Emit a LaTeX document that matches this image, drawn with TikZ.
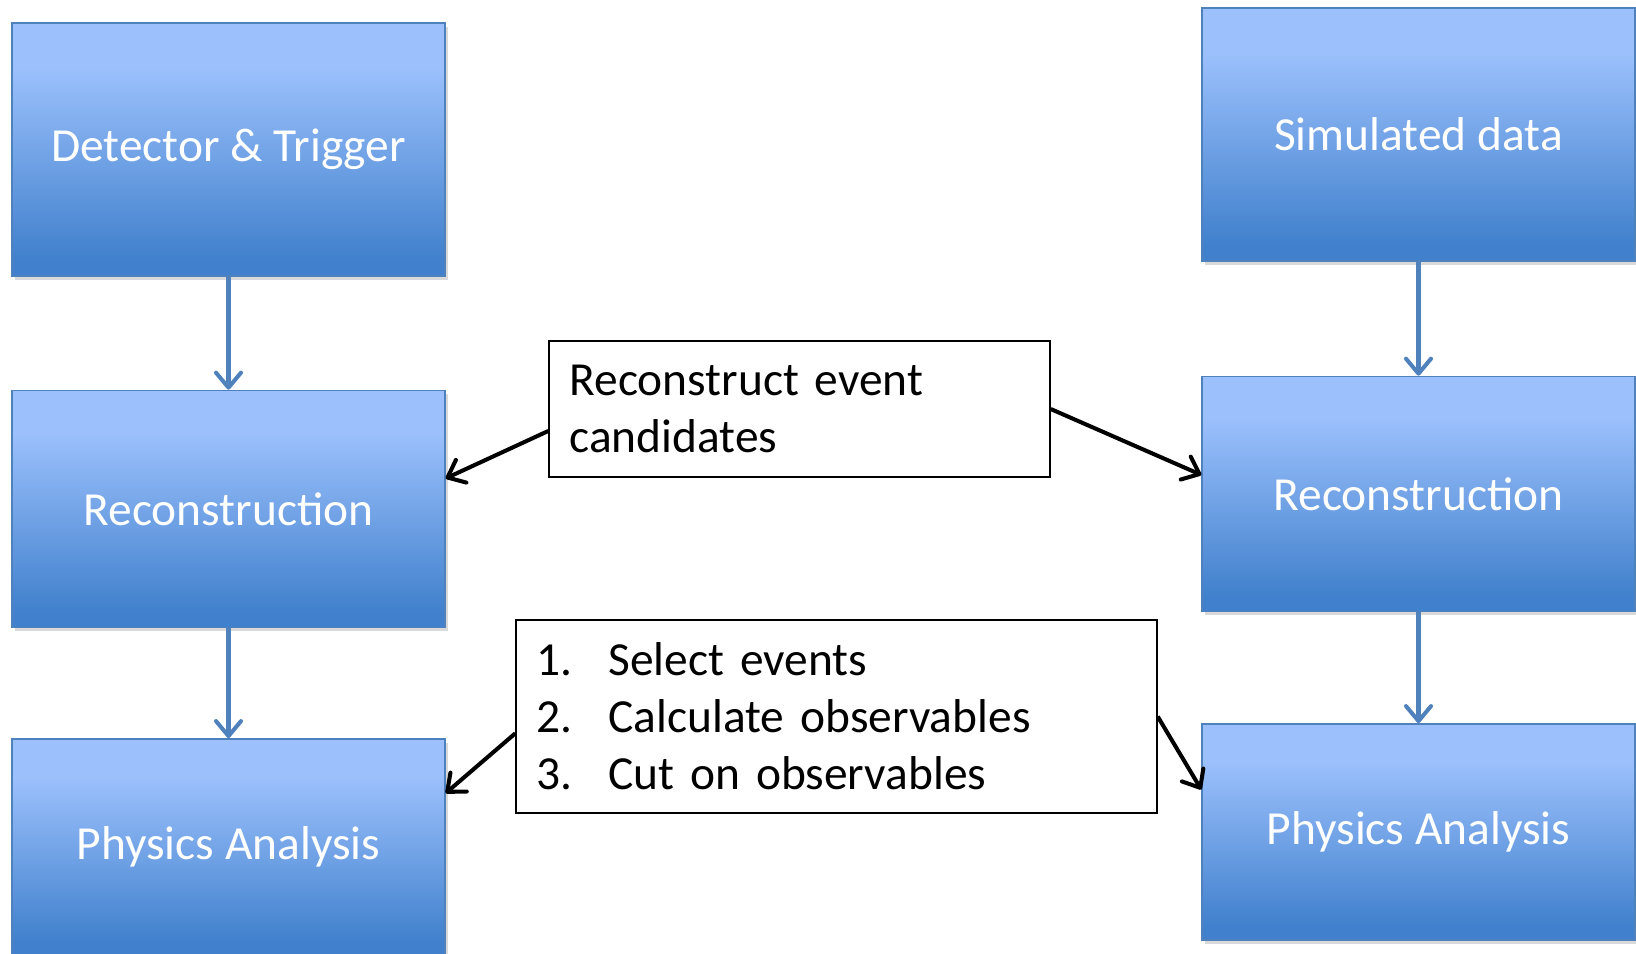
\documentclass[tikz,border=0pt]{standalone}
\usepackage{fontspec}
\setmainfont{Carlito}
\usetikzlibrary{arrows.meta,positioning,shadows}
\definecolor{BoxTop}{RGB}{155,192,252}
\definecolor{BoxBot}{RGB}{64,128,204}
\definecolor{BoxLine}{RGB}{79,129,189}
\pgfdeclareverticalshading{stagefill}{100bp}{color(0bp)=(BoxBot); color(28bp)=(BoxBot); color(66bp)=(BoxTop); color(100bp)=(BoxTop)}

\begin{document}
\begin{tikzpicture}[
    stage/.style={draw=BoxLine,line width=0.8pt,shade,shading=stagefill,
                  text=white,font=\fontsize{27}{32}\selectfont,
                  minimum width=8.66cm,inner sep=0pt,
                  drop shadow={opacity=0.3,shadow xshift=0.06cm,shadow yshift=-0.08cm}},
    note/.style={draw=black,line width=0.8pt,fill=white,
                 font=\fontsize{27}{32.4}\selectfont,
                 align=left,inner xsep=0.41cm,inner ysep=0pt},
    flow/.style={-{Straight Barb[length=0.3cm,width=0.5cm,round]},BoxLine,line width=2.3pt},
    link/.style={-{Straight Barb[length=0.3cm,width=0.5cm,round]},black,line width=2.3pt}
  ]
  \useasboundingbox (0,0) rectangle (32.72,-19.08);
  % data chain
  \node[stage,minimum height=5.06cm] (DT) at (4.57,-2.99) {Detector \& Trigger};
  \node[stage,minimum height=4.74cm,below=2.26cm of DT] (RL) {Reconstruction};
  \node[stage,minimum height=4.34cm,below=2.2cm of RL] (PL) {Physics Analysis};
  % simulation chain
  \node[stage,minimum height=5.06cm] (SD) at (28.37,-2.69) {Simulated data};
  \node[stage,minimum height=4.70cm,below=2.28cm of SD] (RR) {Reconstruction};
  \node[stage,minimum height=4.32cm,below=2.22cm of RR] (PR) {Physics Analysis};
  % notes
  \node[note,text width=9.2cm,minimum height=2.72cm] (M1) at (15.99,-8.18)
    {Reconstruct event\\candidates};
  \node[note,text width=12.0cm,minimum height=3.86cm] (M2) at (16.73,-14.33)
    {\makebox[1.44cm][l]{1.}Select events\\
     \makebox[1.44cm][l]{2.}Calculate observables\\
     \makebox[1.44cm][l]{3.}Cut on observables};
  \draw[flow] (DT) -- (RL); \draw[flow] (RL) -- (PL);
  \draw[flow] (SD) -- (RR); \draw[flow] (RR) -- (PR);
  \draw[link] (M1.185.7) -- (RL.8);
  \draw[link] (M1.east) -- (RR.175.9);
  \draw[link] (M2.183.7) -- (PL.14.4);
  \draw[link] (M2.east) -- (PR.169.5);
\end{tikzpicture}
\end{document}
